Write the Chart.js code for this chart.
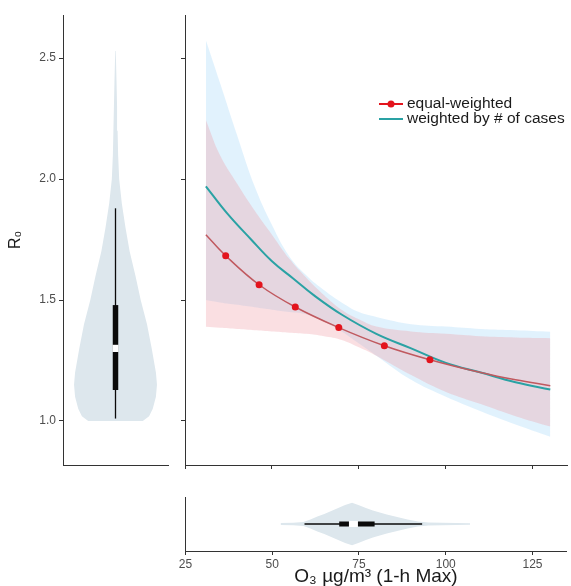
<!DOCTYPE html>
<html>
<head>
<meta charset="utf-8">
<title>R0 vs O3</title>
<script src="https://cdn.jsdelivr.net/npm/chart.js"></script>
<style>
  html, body { margin: 0; padding: 0; background: #fff; overflow: hidden; }
  #wrap { position: relative; width: 571px; height: 586px; overflow: hidden; }
  #wrap canvas { position: absolute; }
  #leftChart { left: 0; top: 0; }
  #mainChart { left: 175px; top: 0; }
  #bottomChart { left: 175px; top: 480px; }
</style>
</head>
<body>
<div id="wrap">
  <canvas id="leftChart" width="178" height="480"></canvas>
  <canvas id="mainChart" width="396" height="480"></canvas>
  <canvas id="bottomChart" width="402" height="106"></canvas>
</div>

<script>
// axis ticks
const yTicks = [1.0, 1.5, 2.0, 2.5];
const xTicks = [25, 50, 75, 100, 125];
const yRange = [0.818, 2.678];
const xRange = [25, 134.8];

// series names (legend)
const seriesNames = ['equal-weighted', 'weighted by # of cases'];

// equal-weighted fit: line and marked points
const redX = [31, 36.7, 46.3, 56.7, 69.2, 82.3, 95.4, 110, 120, 130];
const redY = [1.77, 1.683, 1.563, 1.471, 1.386, 1.311, 1.253, 1.20, 1.17, 1.146];
const dotX = [36.7, 46.3, 56.7, 69.2, 82.3, 95.4];
const dotY = [1.683, 1.563, 1.471, 1.386, 1.311, 1.253];

// weighted by # of cases fit
const cyanX = [31, 37, 44, 50, 56, 62, 70, 80, 90, 100, 110, 120, 130];
const cyanY = [1.97, 1.86, 1.75, 1.66, 1.59, 1.52, 1.44, 1.36, 1.30, 1.24, 1.20, 1.16, 1.13];

// confidence bands
const bandX      = [31, 35, 40, 45, 50, 55, 60, 65, 70, 75, 80, 90, 100, 110, 120, 130];
const blueUpper  = [2.574, 2.40, 2.18, 1.97, 1.81, 1.68, 1.60, 1.54, 1.49, 1.45, 1.43, 1.40, 1.39, 1.38, 1.375, 1.369];
const blueLower  = [1.50, 1.49, 1.48, 1.47, 1.46, 1.45, 1.44, 1.41, 1.37, 1.32, 1.27, 1.17, 1.10, 1.04, 0.985, 0.935];
const pinkUpper  = [2.244, 2.10, 1.98, 1.87, 1.77, 1.67, 1.59, 1.52, 1.46, 1.42, 1.39, 1.37, 1.36, 1.35, 1.345, 1.342];
const pinkLower  = [1.389, 1.385, 1.38, 1.375, 1.37, 1.365, 1.36, 1.35, 1.335, 1.305, 1.27, 1.19, 1.12, 1.07, 1.02, 0.977];

// R0 distribution (left violin): value and half width
const r0Values = [1.0, 1.02, 1.05, 1.1, 1.15, 1.2, 1.3, 1.4, 1.5, 1.6, 1.7, 1.8, 1.9, 2.0, 2.1, 2.2, 2.3, 2.4, 2.53];
const r0Widths = [0.52, 0.64, 0.71, 0.77, 0.79, 0.77, 0.69, 0.60, 0.48, 0.38, 0.27, 0.19, 0.12, 0.07, 0.05, 0.04, 0.03, 0.02, 0.005];
const r0Box = [1.01, 1.128, 1.30, 1.479, 1.879];   // min, q1, median, q3, max

// O3 distribution (bottom violin)
const o3Values = [52.4, 56, 59, 61, 63, 65, 67, 69, 71, 73, 75, 77, 79, 81, 83, 86, 89, 92, 95, 99, 103, 107];
const o3Widths = [0.04, 0.045, 0.075, 0.17, 0.28, 0.37, 0.48, 0.59, 0.70, 0.79, 0.69, 0.59, 0.50, 0.43, 0.35, 0.26, 0.17, 0.09, 0.055, 0.045, 0.037, 0.03];
const o3Box = [59.3, 69.3, 73.4, 79.5, 93.2];

// colours
const violinFill = '#dde7ed';
const boxColor = '#0a0a0a';
const redLine = '#c0595f';
const redDot = '#e3141d';
const cyanLine = '#2aa2a4';
const none = 'rgba(0,0,0,0)';

Chart.defaults.font.family = '"Liberation Sans", Arial, sans-serif';

const pts = (xs, ys) => xs.map((x, i) => ({ x: x, y: ys[i] }));
const fixedTicks = values => scale => { scale.ticks = values.map(v => ({ value: v })); };
const fixSize = size => scale => {
    if (scale.isHorizontal()) scale.height = size; else scale.width = size;
};

const baseOptions = {
    responsive: false,
    animation: false,
    plugins: { legend: { display: false }, tooltip: { enabled: false } },
    elements: { point: { radius: 0 } }
};

const tickGrid = { display: true, drawOnChartArea: false, drawTicks: true, tickLength: 4, color: '#333' };
const axisBorder = { display: true, color: '#333', width: 1 };

// left panel: R0 violin
new Chart(document.getElementById('leftChart'), {
    type: 'line',
    data: {
        datasets: [
            { data: [{ x: 0, y: r0Box[2] }], showLine: false, pointStyle: 'line', rotation: 90,
              pointRadius: 3.6, pointBorderWidth: 6, pointBorderColor: '#fff', order: 0 },
            { data: [{ x: 0, y: r0Box[1] }, { x: 0, y: r0Box[3] }], borderColor: boxColor, borderWidth: 5.5, order: 1 },
            { data: [{ x: 0, y: r0Box[0] }, { x: 0, y: r0Box[4] }], borderColor: boxColor, borderWidth: 1.3, order: 2 },
            { data: r0Values.map((v, i) => ({ x: r0Widths[i], y: v })), fill: '+1',
              backgroundColor: violinFill, borderColor: none, order: 3 },
            { data: r0Values.map((v, i) => ({ x: -r0Widths[i], y: v })), fill: false,
              borderColor: none, order: 4 }
        ]
    },
    options: {
        ...baseOptions,
        indexAxis: 'y',
        layout: { padding: { top: 15, right: 4, left: 0, bottom: 0 } },
        scales: {
            x: {
                type: 'linear', min: -1, max: 1,
                grid: { display: false }, ticks: { display: false }, border: axisBorder,
                afterFit: fixSize(15)
            },
            y: {
                type: 'linear', min: yRange[0], max: yRange[1],
                afterBuildTicks: fixedTicks(yTicks),
                grid: tickGrid, border: axisBorder,
                ticks: { color: '#4d4d4d', padding: 3, font: { size: 12 }, callback: v => v.toFixed(1) },
                title: { display: true, text: 'R₀', color: '#1a1a1a', font: { size: 16 }, padding: { top: 6, bottom: 0 } },
                afterFit: fixSize(63)
            }
        }
    }
});

// inset legend for the main panel
const insetLegend = {
    id: 'insetLegend',
    afterDatasetsDraw(chart) {
        const ctx = chart.ctx;
        const colors = [redDot, cyanLine];
        ctx.save();
        seriesNames.forEach((name, i) => {
            const y = 104 + i * 15;
            ctx.strokeStyle = colors[i];
            ctx.lineWidth = 2;
            ctx.beginPath();
            ctx.moveTo(204, y);
            ctx.lineTo(228, y);
            ctx.stroke();
            if (i === 0) {
                ctx.fillStyle = redDot;
                ctx.beginPath();
                ctx.arc(216, y, 3.5, 0, Math.PI * 2);
                ctx.fill();
            }
            ctx.fillStyle = '#1a1a1a';
            ctx.font = '15.5px "Liberation Sans", Arial, sans-serif';
            ctx.textBaseline = 'middle';
            ctx.fillText(name, 232, y);
        });
        ctx.restore();
    }
};

// main panel: fitted curves with bands
new Chart(document.getElementById('mainChart'), {
    type: 'line',
    data: {
        datasets: [
            { data: pts(bandX, blueUpper), fill: '+1', backgroundColor: 'rgba(179,222,250,0.40)',
              borderColor: none, tension: 0.4, order: 6 },
            { data: pts(bandX, blueLower), fill: false, borderColor: none, tension: 0.4, order: 5 },
            { data: pts(bandX, pinkUpper), fill: '+1', backgroundColor: 'rgba(240,150,160,0.30)',
              borderColor: none, tension: 0.4, order: 4 },
            { data: pts(bandX, pinkLower), fill: false, borderColor: none, tension: 0.4, order: 3 },
            { label: seriesNames[1], data: pts(cyanX, cyanY), borderColor: cyanLine, borderWidth: 2,
              tension: 0.4, order: 2 },
            { label: seriesNames[0], data: pts(redX, redY), borderColor: redLine, borderWidth: 1.5,
              tension: 0.4, order: 1 },
            { data: pts(dotX, dotY), showLine: false, pointRadius: 3.5, pointBackgroundColor: redDot,
              pointBorderWidth: 0, order: 0 }
        ]
    },
    options: {
        ...baseOptions,
        layout: { padding: { top: 15, right: 2, left: 0, bottom: 0 } },
        scales: {
            x: {
                type: 'linear', min: xRange[0], max: xRange[1],
                afterBuildTicks: fixedTicks(xTicks),
                grid: tickGrid, border: axisBorder, ticks: { display: false },
                afterFit: fixSize(15)
            },
            y: {
                type: 'linear', min: yRange[0], max: yRange[1],
                afterBuildTicks: fixedTicks(yTicks),
                grid: tickGrid, border: axisBorder, ticks: { display: false },
                afterFit: fixSize(10)
            }
        }
    },
    plugins: [insetLegend]
});

// bottom panel: O3 violin (canvas is a bit wider so the end-label overhang falls off the page)
new Chart(document.getElementById('bottomChart'), {
    type: 'line',
    data: {
        datasets: [
            { data: [{ x: o3Box[2], y: 0 }], showLine: false, pointStyle: 'line', rotation: 0,
              pointRadius: 4.5, pointBorderWidth: 6, pointBorderColor: '#fff', order: 0 },
            { data: [{ x: o3Box[1], y: 0 }, { x: o3Box[3], y: 0 }], borderColor: boxColor, borderWidth: 5, order: 1 },
            { data: [{ x: o3Box[0], y: 0 }, { x: o3Box[4], y: 0 }], borderColor: boxColor, borderWidth: 1.3, order: 2 },
            { data: pts(o3Values, o3Widths), fill: '+1', backgroundColor: violinFill, borderColor: none, order: 3 },
            { data: pts(o3Values, o3Widths.map(w => -w)), fill: false, borderColor: none, order: 4 }
        ]
    },
    options: {
        ...baseOptions,
        layout: { padding: { top: 17, right: 2, left: 0, bottom: 0 } },
        scales: {
            x: {
                type: 'linear', min: xRange[0], max: xRange[1],
                afterBuildTicks: fixedTicks(xTicks),
                grid: tickGrid, border: axisBorder,
                ticks: { color: '#4d4d4d', padding: 2, font: { size: 12 } },
                title: { display: true, text: 'O₃ µg/m³ (1-h Max)', color: '#1a1a1a',
                         font: { size: 19, lineHeight: 1 }, padding: { top: 0, bottom: 0 } },
                afterFit: fixSize(35)
            },
            y: {
                type: 'linear', min: -1, max: 1,
                grid: { display: false }, ticks: { display: false }, border: axisBorder,
                afterFit: fixSize(10)
            }
        }
    }
});
</script>
</body>
</html>
